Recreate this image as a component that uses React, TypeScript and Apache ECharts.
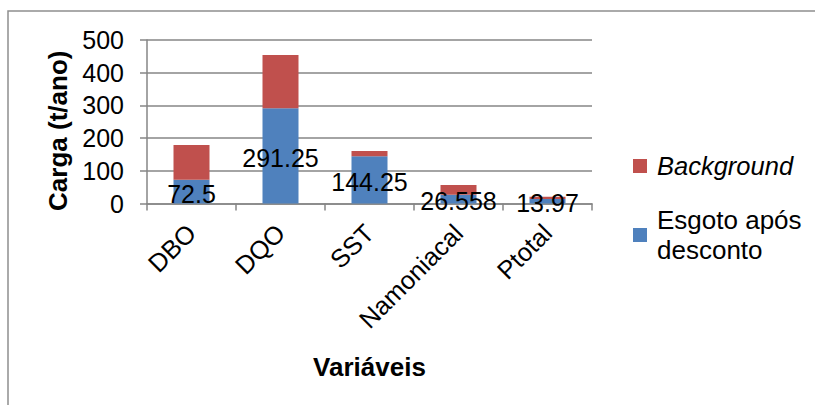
import React, { useEffect, useRef } from "react";
import * as echarts from "echarts";

const categories = ["DBO", "DQO", "SST", "Namoniacal", "Ptotal"];
const esgotoValues = [72.5, 291.25, 144.25, 26.558, 13.97];
const backgroundValues = [106.5, 163, 16, 30, 7];
const yTicks = { min: 0, max: 500, interval: 100 };

const FONT = "'Liberation Sans', Arial, sans-serif";
const GRAY = "#868686";

export default function App() {
  const ref = useRef<HTMLDivElement>(null);
  useEffect(() => {
    if (!ref.current) return;
    const chart = echarts.init(ref.current, null, { renderer: "svg" });
    chart.setOption({
      animation: false,
      textStyle: { fontFamily: FONT },
      graphic: [
        {
          type: "rect",
          shape: { x: 8, y: 11, width: 900, height: 500 },
          style: { fill: "none", stroke: "#8f8f8f", lineWidth: 1.5 },
          silent: true,
        },
      ],
      grid: { left: 147, top: 40, right: 223, bottom: 201.5, containLabel: false },
      legend: [
        {
          orient: "vertical",
          left: 633,
          top: 153,
          padding: 0,
          itemWidth: 14,
          itemHeight: 14,
          icon: "rect",
          data: ["Background"],
          textStyle: {
            fontSize: 25.5,
            fontStyle: "italic",
            color: "#000",
            fontFamily: FONT,
            padding: [0, 0, 0, 5],
          },
        },
        {
          orient: "vertical",
          left: 633,
          top: 191,
          padding: 0,
          itemWidth: 14,
          itemHeight: 14,
          icon: "rect",
          data: ["Esgoto após desconto"],
          formatter: () => "Esgoto após\ndesconto",
          textStyle: {
            fontSize: 26,
            lineHeight: 29.5,
            color: "#000",
            fontFamily: FONT,
            padding: [29, 0, 0, 5],
          },
        },
      ],
      xAxis: {
        type: "category",
        data: categories,
        name: "Variáveis",
        nameLocation: "middle",
        nameGap: 150,
        nameTextStyle: { fontSize: 26, fontWeight: "bold", color: "#000", fontFamily: FONT },
        axisLine: { show: true, lineStyle: { color: GRAY, width: 1.5 } },
        axisTick: { show: true, length: 7, lineStyle: { color: GRAY, width: 1.5 } },
        axisLabel: { rotate: 45, fontSize: 25.5, color: "#000", margin: 25, fontFamily: FONT },
      },
      yAxis: {
        type: "value",
        min: yTicks.min,
        max: yTicks.max,
        interval: yTicks.interval,
        name: "Carga (t/ano)",
        nameLocation: "middle",
        nameGap: 74,
        nameTextStyle: {
          fontSize: 26,
          fontWeight: "bold",
          color: "#000",
          fontFamily: FONT,
          padding: [0, 18, 0, 0],
        },
        axisLine: { show: true, lineStyle: { color: GRAY, width: 1.5 } },
        axisTick: { show: true, length: 7, lineStyle: { color: GRAY, width: 1.5 } },
        splitLine: { show: true, lineStyle: { color: GRAY, width: 1.5 } },
        axisLabel: { fontSize: 25, color: "#000", margin: 23, fontFamily: FONT },
      },
      series: [
        {
          name: "Esgoto após desconto",
          type: "bar",
          stack: "total",
          barWidth: 36,
          data: esgotoValues,
          itemStyle: { color: "#4F81BD" },
          label: {
            show: true,
            position: "inside",
            color: "#000",
            fontSize: 25,
            fontFamily: FONT,
            offset: [0, 2],
          },
        },
        {
          name: "Background",
          type: "bar",
          stack: "total",
          barWidth: 36,
          data: backgroundValues,
          itemStyle: { color: "#C0504D" },
        },
      ],
    });
    return () => chart.dispose();
  }, []);
  return (
    <div
      ref={ref}
      style={{ position: "fixed", left: 0, top: 0, width: 815, height: 405, background: "#fff" }}
    />
  );
}
